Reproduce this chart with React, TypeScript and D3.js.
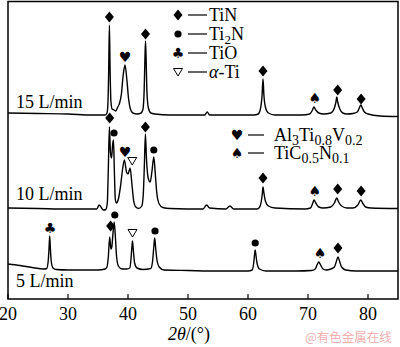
import React from "react";
import * as d3 from "d3";

// ---- data: [2θ (°), intensity (a.u., offset per curve)] ----
const curve15: [number, number][] = [
  [20, 186], [25, 185.5], [30, 185], [34, 184], [36.2, 184], [36.5, 186], [36.65, 195], [36.78, 228], [36.9, 274], [37.02, 228], [37.15, 198], [37.35, 190],
  [37.7, 189], [37.95, 188], [38.3, 192], [38.6, 196], [38.9, 205], [39.2, 224], [39.5, 234], [39.8, 220], [40.1, 200], [40.4, 190], [40.8, 186], [41.5, 185], [42.2, 186],
  [42.5, 190], [42.7, 210], [42.82, 240], [42.92, 258], [43.02, 240], [43.15, 208], [43.4, 191], [43.8, 186], [44.5, 185],
  [47, 184], [50, 184], [52.8, 184], [53.2, 187], [53.6, 184], [57, 184], [61, 184],
  [61.7, 185], [62.1, 191], [62.35, 204], [62.5, 220], [62.65, 204], [62.9, 192], [63.4, 186], [64.5, 184],
  [69, 184], [70.3, 185], [70.7, 188.5], [71.0, 192], [71.3, 189], [71.8, 186], [72.6, 185],
  [73.8, 186], [74.4, 191], [74.65, 197], [74.8, 202], [74.95, 197], [75.3, 190], [75.8, 186], [76.5, 185], [77.5, 185.5],
  [78.2, 187], [78.55, 191], [78.8, 194], [79.05, 191], [79.4, 187], [80, 185], [82, 183], [85, 182.5],
];

const curve10: [number, number][] = [
  [20, 91], [25, 90.5], [30, 90], [34, 90], [34.8, 90], [35.2, 94], [35.5, 92], [35.9, 89], [36.3, 89.5],
  [36.55, 96], [36.72, 130], [36.9, 172], [37.08, 146], [37.25, 141], [37.45, 155], [37.58, 159], [37.72, 130], [37.88, 100], [38.05, 96],
  [38.4, 100], [38.8, 115], [39.1, 130], [39.4, 139], [39.75, 127], [40.0, 125], [40.35, 131], [40.65, 115], [40.95, 98], [41.3, 92], [41.8, 90.5], [42.3, 93],
  [42.55, 105], [42.72, 132], [42.9, 165], [43.08, 140], [43.4, 120], [43.7, 117], [44.0, 128], [44.3, 142], [44.55, 125], [44.8, 106], [45.2, 95], [45.8, 91.5], [47, 90.5],
  [52.5, 90], [53.1, 94], [53.6, 91], [56.3, 90], [57.0, 93], [57.6, 90], [61.5, 90],
  [61.9, 91.5], [62.2, 97], [62.4, 106], [62.5, 112], [62.65, 106], [62.9, 98], [63.4, 93], [64.5, 91], [69.5, 90],
  [70.4, 91], [70.8, 96], [71.0, 99], [71.3, 96], [71.8, 92], [72.5, 91], [73.8, 92],
  [74.4, 96], [74.8, 101], [75.1, 97], [75.6, 93], [76.5, 91], [77.5, 91], [78.3, 94], [78.8, 99], [79.1, 96], [79.6, 92], [80.5, 91], [85, 90.5],
];

const curve5: [number, number][] = [
  [20, 35], [22, 33.5], [24, 31.5], [26, 30], [26.45, 30.5], [26.7, 38], [26.85, 52], [26.95, 63], [27.05, 52], [27.2, 38], [27.5, 31], [28, 29.5],
  [30, 29], [33, 29], [35, 29], [36.2, 30], [36.5, 32], [36.72, 42], [36.95, 62], [37.15, 50], [37.3, 52], [37.5, 66], [37.7, 77], [37.9, 62], [38.1, 42], [38.4, 33], [39, 30], [39.8, 30],
  [40.3, 31], [40.5, 40], [40.65, 52], [40.75, 58], [40.9, 48], [41.1, 36], [41.5, 31], [42.5, 29.5], [43.8, 30.5],
  [44.1, 38], [44.3, 52], [44.45, 61], [44.6, 52], [44.8, 40], [45.2, 32], [46, 29], [50, 28.5], [55, 28], [60, 28],
  [60.7, 29], [60.95, 36], [61.1, 45], [61.2, 49], [61.3, 45], [61.5, 36], [61.9, 30], [63, 28], [68, 28], [70.6, 28.5],
  [71.2, 30], [71.5, 34], [71.8, 37], [72.1, 34], [72.5, 30], [73, 29], [73.8, 30],
  [74.4, 32], [74.75, 38], [75.0, 42], [75.25, 38], [75.6, 32], [76.3, 29], [78, 28], [85, 28],
];

// phase markers: [2θ, height, phase]
type Phase = "TiN" | "Ti2N" | "TiO" | "aTi" | "Al3Ti" | "TiC";
const markers15: [number, number, Phase][] = [
  [36.9, 282, "TiN"], [39.5, 242, "Al3Ti"], [42.92, 265, "TiN"], [62.5, 228, "TiN"],
  [71.15, 201, "TiC"], [74.95, 209, "TiN"], [78.85, 200, "TiN"],
];
const markers10: [number, number, Phase][] = [
  [36.95, 181, "TiN"], [37.67, 166, "Ti2N"], [39.5, 147, "Al3Ti"], [40.7, 138, "aTi"],
  [42.9, 172, "TiN"], [44.3, 149, "Ti2N"], [62.5, 121, "TiN"], [71.15, 108, "TiC"],
  [74.95, 110, "TiN"], [78.85, 108, "TiN"],
];
const markers5: [number, number, Phase][] = [
  [27.0, 71, "TiO"], [37.1, 73, "TiN"], [37.8, 84, "Ti2N"], [40.75, 66, "aTi"],
  [44.5, 68, "Ti2N"], [61.2, 56, "Ti2N"], [72.0, 46, "TiC"], [75.0, 51, "TiN"],
];

const curveLabels = ["15 L/min", "10 L/min", "5 L/min"];
const curveLabelHeights = [191, 99, 12];
const xTicks = [20, 30, 40, 50, 60, 70, 80];

const W = 400, H = 347;
const FONT = "'Liberation Serif', 'Times New Roman', serif";
const SYMF = "'DejaVu Sans', sans-serif";

const x = d3.scaleLinear().domain([20, 85]).range([8, 398]);
const y = d3.scaleLinear().domain([0, 298]).range([299, 1]);

const line = d3.line<[number, number]>().x(d => x(d[0])).y(d => y(d[1])).curve(d3.curveMonotoneX);

function Marker({ cx, cy, phase }: { cx: number; cy: number; phase: Phase }) {
  if (phase === "TiN") return <path d={`M${cx},${cy - 5.5}L${cx + 4.5},${cy}L${cx},${cy + 5.5}L${cx - 4.5},${cy}Z`} fill="#000" />;
  if (phase === "Ti2N") return <circle cx={cx} cy={cy} r={3.6} fill="#000" />;
  if (phase === "aTi") return <path d={`M${cx - 4.5},${cy - 3.5}L${cx + 4.5},${cy - 3.5}L${cx},${cy + 4}Z`} fill="#fff" stroke="#000" strokeWidth={1} />;
  const ch = phase === "TiO" ? "\u2663" : phase === "Al3Ti" ? "\u2665" : "\u2660";
  return <text x={cx} y={cy + 5} textAnchor="middle" fontFamily={SYMF} fontSize={14} fill="#000">{ch}</text>;
}

export default function App() {
  const curves = [curve15, curve10, curve5];
  const markerSets = [markers15, markers10, markers5];
  const legend1: [Phase, number][] = [["TiN", 15], ["Ti2N", 34], ["TiO", 53], ["aTi", 72]];
  return (
    <svg width={W} height={H} style={{ position: "absolute", left: 0, top: 0, background: "#fff" }} fontFamily={FONT}>
      <rect x={0} y={0} width={W} height={H} fill="#fff" />
      {curves.map((c, i) => (
        <path key={i} d={line(c) || ""} fill="none" stroke="#000" strokeWidth={1.4} strokeLinejoin="round" />
      ))}
      {markerSets.map((ms, i) => ms.map((m, j) => <Marker key={`${i}-${j}`} cx={x(m[0])} cy={y(m[1])} phase={m[2]} />))}
      {curveLabels.map((t, i) => (
        <text key={t} x={16} y={y(curveLabelHeights[i])} fontSize={18} fill="#000">{t}</text>
      ))}
      {/* legend 1 */}
      {legend1.map(([p, cy]) => (
        <g key={p}>
          <Marker cx={178} cy={cy} phase={p} />
          <line x1={188} x2={207} y1={cy} y2={cy} stroke="#000" strokeWidth={1.2} />
        </g>
      ))}
      <text x={209} y={21} fontSize={18}>TiN</text>
      <text x={209} y={40} fontSize={18}>Ti<tspan dy={4} fontSize={13}>2</tspan><tspan dy={-4}>N</tspan></text>
      <text x={209} y={59} fontSize={18}>TiO</text>
      <text x={209} y={78} fontSize={18}><tspan fontStyle="italic">α</tspan>-Ti</text>
      {/* legend 2 */}
      <Marker cx={237} cy={135} phase="Al3Ti" />
      <line x1={248} x2={264} y1={135} y2={135} stroke="#000" strokeWidth={1.2} />
      <Marker cx={237} cy={153} phase="TiC" />
      <line x1={248} x2={264} y1={153} y2={153} stroke="#000" strokeWidth={1.2} />
      <text x={274} y={141} fontSize={18}>Al<tspan dy={4} fontSize={14}>3</tspan><tspan dy={-4}>Ti</tspan><tspan dy={4} fontSize={14}>0.8</tspan><tspan dy={-4}>V</tspan><tspan dy={4} fontSize={14}>0.2</tspan></text>
      <text x={274} y={159} fontSize={18}>TiC<tspan dy={4} fontSize={14}>0.5</tspan><tspan dy={-4}>N</tspan><tspan dy={4} fontSize={14}>0.1</tspan></text>
      {/* frame & axis */}
      <rect x={8} y={1.5} width={390} height={297.5} fill="none" stroke="#000" strokeWidth={1.5} />
      {xTicks.map(t => (
        <g key={t}>
          <line x1={x(t)} x2={x(t)} y1={299} y2={294} stroke="#000" strokeWidth={1.2} />
          <text x={x(t)} y={320} fontSize={18} textAnchor="middle">{t}</text>
        </g>
      ))}
      <text x={168} y={340} fontSize={18}><tspan fontStyle="italic">2θ</tspan>/(°)</text>
      <text x={305} y={342} fontSize={12.5} fill="#f2b0b0" fontFamily="'Noto Sans CJK SC', sans-serif">@有色金属在线</text>
    </svg>
  );
}
